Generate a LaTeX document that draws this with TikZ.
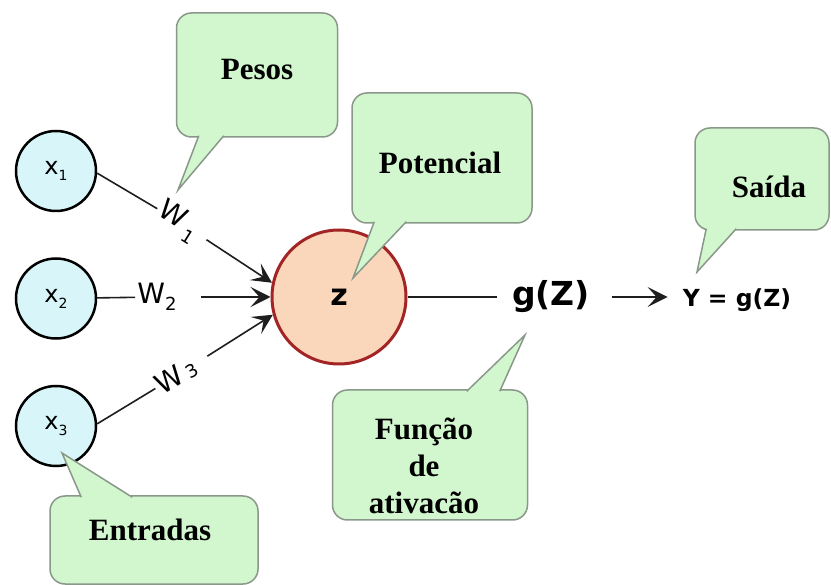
\documentclass[tikz,border=0pt]{standalone}
\usepackage{fontspec}
\setmainfont{Liberation Serif}
\newfontfamily\sansfont{DejaVu Sans}
\usetikzlibrary{arrows.meta,positioning,calc}
\definecolor{InputCyan}{HTML}{D8F6F9}
\definecolor{SumPeach}{HTML}{FAD6BA}
\definecolor{SumRed}{HTML}{A32424}
\definecolor{BubbleGreen}{HTML}{D2F6CE}
\definecolor{BubbleEdge}{HTML}{8A988A}
\definecolor{InkGray}{HTML}{1E1E1E}

% small lowered index for x and W
\newcommand{\lowidx}[3]{\raisebox{#1}{\fontsize{#2}{#2}\selectfont #3}}
% tail of a speech bubble: base point, base point, tip
\newcommand{\bubbletail}[3]{%
  \fill[BubbleGreen] #1 -- #3 -- #2 -- cycle;
  \draw[BubbleEdge, line width=1.5pt, line join=miter] #1 -- #3 -- #2;}

\begin{document}
\begin{tikzpicture}[x=1pt, y=-1pt,
  inputnode/.style={circle, draw=black, line width=2.5pt, fill=InputCyan,
    minimum size=80pt, inner sep=0pt, font=\sansfont\fontsize{24}{24}\selectfont},
  sumnode/.style={circle, draw=SumRed, line width=3pt, fill=SumPeach,
    minimum size=134pt, inner sep=0pt, font=\sansfont\bfseries\fontsize{30}{30}\selectfont},
  weight/.style={font=\sansfont\fontsize{28}{28}\selectfont, inner sep=2pt},
  bubble/.style={draw=BubbleEdge, line width=1.5pt, fill=BubbleGreen, rounded corners=15pt,
    inner sep=0pt},
  bubbletext/.style={align=center, inner sep=0pt, font=\bfseries\fontsize{31}{37}\selectfont},
  link/.style={line width=1.6pt, draw=InkGray},
  flow/.style={link, -{Stealth[length=20pt, width=20pt, inset=9pt]}}
]
\useasboundingbox (0,0) rectangle (831,585);

\node[inputnode] (x1) at (56,171) {x\lowidx{-6pt}{14}{1}};
\node[inputnode, below=45pt of x1] (x2) {x\lowidx{-6pt}{14}{2}};
\node[inputnode, below=45pt of x2] (x3) {x\lowidx{-6pt}{14}{3}};
\node[sumnode] (z) at (339,297) {z};

\node[weight, rotate=-32] (w1) at (178,221) {W\,\lowidx{-9pt}{18}{1}};
\node[weight] (w2) at (157,297) {W\lowidx{-7pt}{18}{2}};
\node[weight, rotate=31] (w3) at (176,376) {W\,\lowidx{-1pt}{18}{3}};

\node[inner sep=0pt, font=\sansfont\bfseries\fontsize{33}{33}\selectfont] (gz) at (551,297) {g(Z)};
\node[inner sep=0pt, font=\sansfont\bfseries\fontsize{23.5}{24}\selectfont] (out) at (737,300) {Y = g(Z)};

\draw[link] (x1.-3) -- (w1);
\draw[flow, shorten <=10pt] (w1) -- (z.168);
\draw[link] (x2) -- (w2);
\draw[flow, shorten <=22pt] (w2) -- (z.west);
\draw[link] (x3.3) -- (w3);
\draw[flow, shorten <=13pt] (w3) -- (z.195);
\draw[link, shorten >=15pt] (z.east) -- (z.east -| gz.west);
\draw[flow, shorten <=22pt, shorten >=15pt] (gz.east) -- (gz.east -| out.west);

% speech bubbles
\node[bubble, minimum width=161pt, minimum height=124pt,
  label={[bubbletext, yshift=5pt]center:Pesos}] (pesos) at (257,75) {};
\node[bubble, minimum width=180pt, minimum height=130pt,
  label={[bubbletext, xshift=-2pt, yshift=-5pt]center:Potencial}] (potencial) at (442,158) {};
\node[bubble, minimum width=134pt, minimum height=102pt,
  label={[bubbletext, xshift=7pt, yshift=-8pt]center:Saída}] (saida) at (762,179) {};
\node[bubble, minimum width=208pt, minimum height=88pt,
  label={[bubbletext, xshift=-4pt, yshift=10pt]center:Entradas}] (entradas) at (154,540) {};
\node[bubble, minimum width=195pt, minimum height=130pt,
  label={[bubbletext, xshift=-6pt, yshift=-11pt]center:{Função\\de\\ativacão}}] (funcao) at (430,455) {};

\coordinate (pesostip) at (178,190);
\coordinate (potencialtip) at (353,278);
\coordinate (saidatip) at (697,272);
\coordinate (entradastip) at (62,453);
\coordinate (funcaotip) at (525,335);
\bubbletail{($(pesos.south west)+(23,-2)$)}{($(pesos.south west)+(48,-2)$)}{(pesostip)}
\bubbletail{($(potencial.south west)+(23,-2)$)}{($(potencial.south west)+(55,-2)$)}{(potencialtip)}
\bubbletail{($(saida.south west)+(12,-2)$)}{($(saida.south west)+(42,-2)$)}{(saidatip)}
\bubbletail{($(entradas.north west)+(32,2)$)}{($(entradas.north west)+(83,2)$)}{(entradastip)}
\bubbletail{($(funcao.north west)+(135,2)$)}{($(funcao.north west)+(168,2)$)}{(funcaotip)}
\end{tikzpicture}
\end{document}
